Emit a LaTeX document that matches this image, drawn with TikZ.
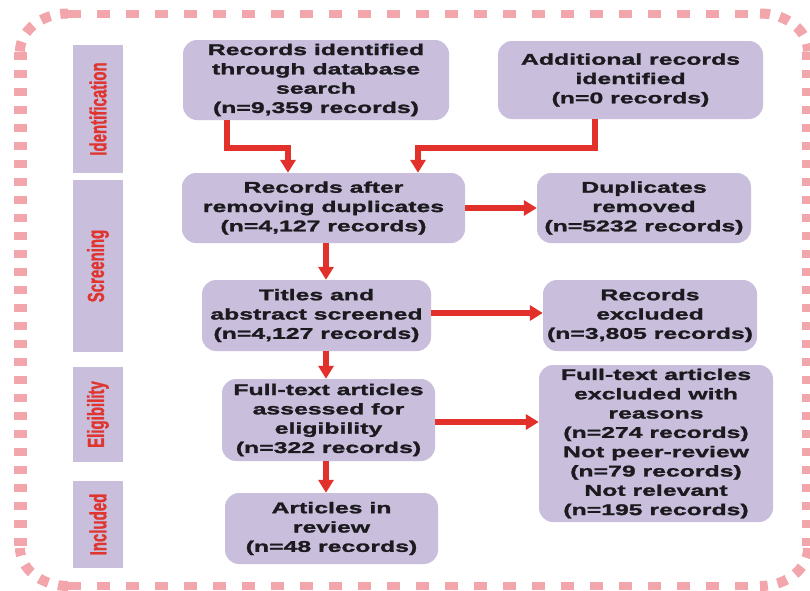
\documentclass[tikz,border=0pt]{standalone}
\usepackage{fontspec}
\usetikzlibrary{arrows.meta,calc}
\newfontfamily\boxfont{Liberation Sans}[FakeStretch=1.6,FakeBold=1.6]
\newfontfamily\sidefont{Liberation Sans}[FakeBold=1.4]
\definecolor{lav}{HTML}{C9BFDD}
\definecolor{arrred}{HTML}{E2302A}
\definecolor{txtred}{HTML}{E0342E}
\definecolor{dashpink}{HTML}{F2A5AA}
\definecolor{ink}{HTML}{1C1A1E}
\begin{document}
\begin{tikzpicture}[x=1pt,y=-1pt,
  box/.style={fill=lav, rounded corners=14pt, inner sep=0pt, align=center, text=ink,
    font=\boxfont\bfseries\fontsize{15.5}{19.3}\selectfont},
  side/.style={fill=lav, rotate=90, inner sep=0pt, minimum height=50pt, text=txtred,
    font=\sidefont\bfseries\fontsize{15}{18}\selectfont},
  arr/.style={draw=arrred, line width=5.5pt, -{Triangle[length=13pt,width=15pt]}},
  bdr/.style={draw=dashpink}]
\useasboundingbox[fill=white] (0,0) rectangle (810,590);

% dashed frame
\draw[bdr, line width=8pt, dash pattern=on 13pt off 16pt] (68,13.5) -- (760,13.5);
\draw[bdr, line width=8pt, dash pattern=on 13pt off 16pt] (68,586) -- (760,586);
\draw[bdr, line width=13pt, dash pattern=on 8pt off 10pt] (20,51.5) -- (20,548);
\draw[bdr, line width=13pt, dash pattern=on 8pt off 10pt] (808,51.5) -- (808,548);
\draw[bdr, line width=10pt, dash pattern=on 10pt off 10pt]
  (20,51.5) .. controls (20,30.5) and (41.5,13.5) .. (68,13.5);
\draw[bdr, line width=10pt, dash pattern=on 10pt off 10pt]
  (760,13.5) .. controls (786.5,13.5) and (808,30.5) .. (808,51.5);
\draw[bdr, line width=10pt, dash pattern=on 10pt off 10pt]
  (808,548) .. controls (808,569) and (786.5,586) .. (760,586);
\draw[bdr, line width=10pt, dash pattern=on 10pt off 10pt]
  (68,586) .. controls (41.5,586) and (20,569) .. (20,548);

% side labels
\node[side, minimum width=128pt] (S1) at (98,109) {\scalebox{1}[1.55]{Identification}};
\node[side, minimum width=172pt] (S2) at (98,266) {\scalebox{1}[1.55]{Screening}};
\node[side, minimum width=95pt] (S3) at (98,414.5) {\scalebox{1}[1.55]{Eligibility}};
\node[side, minimum width=87pt] (S4) at (98,524.5) {\scalebox{1}[1.55]{Included}};

% boxes
\node[box, minimum width=266pt, minimum height=80pt] (B1) at (316,80)
  {Records identified\\through database\\search\\(n=9,359 records)};
\node[box, minimum width=265pt, minimum height=78pt] (B2) at (630.5,80)
  {Additional records\\identified\\(n=0 records)};
\node[box, minimum width=283pt, minimum height=70pt] (B3) at (323.5,208)
  {Records after\\removing duplicates\\(n=4,127 records)};
\node[box, minimum width=214pt, minimum height=70pt] (B4) at (644,208)
  {Duplicates\\removed\\(n=5232 records)};
\node[box, minimum width=229pt, minimum height=71pt] (B5) at (316.5,315.5)
  {Titles and\\abstract screened\\(n=4,127 records)};
\node[box, minimum width=214pt, minimum height=71pt] (B6) at (650,315.5)
  {Records\\excluded\\(n=3,805 records)};
\node[box, minimum width=213pt, minimum height=82pt] (B7) at (328.5,420)
  {Full-text articles\\assessed for\\eligibility\\(n=322 records)};
\node[box, minimum width=234pt, minimum height=157pt] (B8) at (656,443.5)
  {Full-text articles\\excluded with\\reasons\\(n=274 records)\\Not peer-review\\(n=79 records)\\Not relevant\\(n=195 records)};
\node[box, minimum width=213pt, minimum height=71pt] (B9) at (331.5,528.5)
  {Articles in\\review\\(n=48 records)};

% connectors
\coordinate (j1) at (288,148);
\coordinate (j2) at (418,148);
\coordinate (cx) at (326,0);
\draw[arr] ([xshift=-89pt]B1.south) |- (j1) -- (j1 |- B3.north);
\draw[arr] ([xshift=-35.5pt]B2.south) |- (j2) -- (j2 |- B3.north);
\draw[arr] (B3.east) -- (B3.east -| B4.west);
\draw[arr] (B3.south -| cx) -- (B5.north -| cx);
\draw[arr] ([yshift=2.5pt]B5.east) -- ([yshift=2.5pt]B5.east -| B6.west);
\draw[arr] (B5.south -| cx) -- (B7.north -| cx);
\draw[arr] ([yshift=-2pt]B7.east) -- ([yshift=-2pt]B7.east -| B8.west);
\draw[arr] (B7.south -| cx) -- (B9.north -| cx);
\end{tikzpicture}
\end{document}
